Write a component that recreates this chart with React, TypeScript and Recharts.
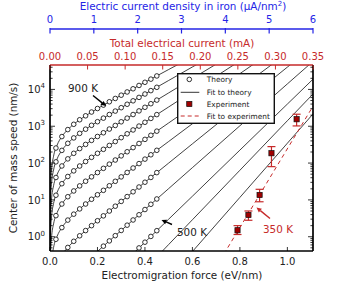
import React from "react";
import {
  ComposedChart,
  Line,
  Scatter,
  XAxis,
  YAxis,
  ErrorBar,
  Legend
} from "recharts";

const FONT = "'DejaVu Sans', sans-serif";
const RED = "#c62a2a";
const DARK_RED = "#a00000";
const BLUE = "#2424e6";
const INK = "#222";

// plot frame in pixels
const LEFT = 50;
const RIGHT = 313;
const TOP = 65;
const BOTTOM = 251;
const BLUE_LINE = 29;

const FORCE_MAX = 1.108;
const SPEED_MIN = 0.41;
const SPEED_MAX = 46000;

// electromigration force of the fitted curves (eV/nm)
const fitForce = [
  0.00002, 0.0001, 0.0005, 0.002, 0.006, 0.015, 0.03, 0.05, 0.08, 0.12, 0.17,
  0.23, 0.3, 0.4, 0.5, 0.6, 0.8, 1.0, 1.12
];
// speed on the fitted curves (nm/s), null where the curve is off the chart
const fit900 = [0.204, 1.02, 5.09, 20.4, 61.1, 153, 308, 524, 869, 1420, 2310, 3900, 6970, 15600, 34700, 77100, null, null, null];
const fit850 = [0.0859, 0.43, 2.15, 8.59, 25.8, 64.6, 130, 221, 370, 608, 1010, 1740, 3190, 7500, 17500, 40700, 221000, null, null];
const fit800 = [0.0322, 0.161, 0.805, 3.22, 9.66, 24.2, 48.9, 83.4, 140, 233, 394, 697, 1320, 3270, 8040, 19800, 119000, null, null];
const fit750 = [null, 0.053, 0.265, 1.06, 3.18, 7.98, 16.1, 27.5, 46.6, 78.5, 136, 248, 490, 1280, 3340, 8730, 59400, null, null];
const fit700 = [null, null, 0.074, 0.296, 0.887, 2.23, 4.51, 7.73, 13.2, 22.6, 40.0, 75.9, 157, 440, 1230, 3440, 26800, 209000, null];
const fit650 = [null, null, null, 0.0675, 0.202, 0.508, 1.03, 1.77, 3.06, 5.35, 9.77, 19.3, 42.2, 128, 386, 1170, 10700, 97700, null];
const fit600 = [null, null, null, null, null, null, 0.183, 0.318, 0.555, 0.993, 1.88, 3.92, 9.1, 30.2, 100, 333, 3660, 40300, 170000];
const fit550 = [null, null, null, null, null, null, null, null, null, null, 0.268, 0.594, 1.48, 5.5, 20.3, 75.2, 1030, 14100, 67600];
const fit500 = [null, null, null, null, null, null, null, null, null, null, null, 0.0615, 0.169, 0.711, 3.0, 12.6, 225, 4000, 22500];
const fit450 = [null, null, null, null, null, null, null, null, null, null, null, null, null, 0.131, 0.615, 2.89, 63.8, 1410, 9020];
const fit400 = [null, null, null, null, null, null, null, null, null, null, null, null, null, null, 0.073, 0.396, 11.7, 346, 2640];

// theory points
const theoryForce = [
  0.025, 0.05, 0.075, 0.1, 0.125, 0.15, 0.175, 0.2, 0.225, 0.25, 0.275, 0.3,
  0.325, 0.35, 0.375, 0.4, 0.425, 0.45
];
const theory900 = [256, 524, 811, 1130, 1500, 1920, 2430, 3030, 3750, 4620, 5680, 6970, 8530, 10400, 12800, 15600, 19000, 23200];
const theory850 = [108, 221, 344, 482, 641, 832, 1060, 1330, 1660, 2080, 2580, 3190, 3950, 4900, 6070, 7500, 9270, 11400];
const theory800 = [40.6, 83.4, 130, 184, 247, 321, 413, 527, 665, 839, 1050, 1320, 1660, 2080, 2610, 3270, 4090, 5130];
const theory750 = [13.4, 27.5, 43.2, 61.4, 83.2, 110, 143, 184, 236, 301, 384, 490, 624, 793, 1010, 1280, 1630, 2070];
const theory700 = [3.74, 7.73, 12.2, 17.5, 24.0, 32.1, 42.3, 55.3, 71.9, 93.5, 121, 157, 203, 263, 340, 440, 568, 735];
const theory650 = [0.853, 1.77, 2.83, 4.1, 5.7, 7.73, 10.4, 13.8, 18.2, 24.2, 32.0, 42.2, 55.6, 73.5, 96.8, 128, 168, 222];
const theory600 = [null, null, 0.512, 0.752, 1.06, 1.47, 2.0, 2.72, 3.69, 4.99, 6.75, 9.1, 12.3, 16.6, 22.4, 30.2, 40.7, 55.1];
const theory550 = [null, null, null, null, null, null, null, null, 0.555, 0.771, 1.07, 1.48, 2.06, 2.85, 3.95, 5.48, 7.6, 10.6];
const theory500 = [null, null, null, null, null, null, null, null, null, null, null, null, null, null, 0.497, 0.711, 1.02, 1.46];

// experiment at 350 K
const expForce = [0.79, 0.836, 0.883, 0.933, 1.039];
const expSpeed = [1.5, 3.9, 13.6, 185, 1550];
const expErrLow = [0.35, 1.1, 4.7, 105, 530];
const expErrHigh = [0.5, 1.1, 5.8, 95, 570];
const expFitForce = [0.7, 1.12];
const expFitSpeed = [0.152, 4700];

// top axes ranges (total current in mA, current density in uA/nm^2)
const currentRange = [0, 0.35];
const densityRange = [0, 6];

const forceTicks = [0, 0.2, 0.4, 0.6, 0.8, 1.0];
const currentTicks = [0, 0.05, 0.1, 0.15, 0.2, 0.25, 0.3, 0.35];
const densityTicks = [0, 1, 2, 3, 4, 5, 6];
const speedTicks = [
  0.5, 0.6, 0.7, 0.8, 0.9, 1, 2, 3, 4, 5, 6, 7, 8, 9, 10, 20, 30, 40, 50, 60,
  70, 80, 90, 100, 200, 300, 400, 500, 600, 700, 800, 900, 1000, 2000, 3000,
  4000, 5000, 6000, 7000, 8000, 9000, 10000, 20000, 30000, 40000
];

const toRows = (xs: number[], ys: (number | null)[]) =>
  xs.map((F, i) => ({ F, v: ys[i] })).filter((d) => d.v != null);

const fits = [fit900, fit850, fit800, fit750, fit700, fit650, fit600, fit550, fit500, fit450, fit400];
const theories = [theory900, theory850, theory800, theory750, theory700, theory650, theory600, theory550, theory500];

const expRows = expForce.map((F, i) => ({
  F,
  v: expSpeed[i],
  err: [expErrLow[i], expErrHigh[i]]
}));

const isDecade = (v: number) => {
  const e = Math.log10(v);
  return Math.abs(e - Math.round(e)) < 1e-9;
};

const SpeedTickLeft = (props: any) => {
  const { y, payload } = props;
  const major = isDecade(payload.value);
  return (
    <g>
      <line x1={LEFT} x2={LEFT + (major ? 5 : 2.6)} y1={y} y2={y} stroke="#000" strokeWidth={0.8} />
      {major ? (
        <text x={LEFT - 5} y={y + 3.6} textAnchor="end" fontFamily={FONT} fontSize={10} fill={INK}>
          10
          <tspan dy={-4.6} fontSize={7}>
            {Math.round(Math.log10(payload.value))}
          </tspan>
        </text>
      ) : null}
    </g>
  );
};

const SpeedTickRight = (props: any) => {
  const { y, payload } = props;
  const major = isDecade(payload.value);
  return <line x1={RIGHT} x2={RIGHT - (major ? 5 : 2.6)} y1={y} y2={y} stroke="#000" strokeWidth={0.8} />;
};

const ForceTick = (props: any) => {
  const { x, payload } = props;
  return (
    <g>
      <line x1={x} x2={x} y1={BOTTOM} y2={BOTTOM - 4} stroke="#000" strokeWidth={0.8} />
      <text x={x} y={BOTTOM + 13.5} textAnchor="middle" fontFamily={FONT} fontSize={10} fill={INK}>
        {payload.value.toFixed(1)}
      </text>
    </g>
  );
};

const CurrentTick = (props: any) => {
  const { x, payload } = props;
  return (
    <g>
      <line x1={x} x2={x} y1={TOP} y2={TOP + 4.5} stroke={RED} strokeWidth={1} />
      <text x={x} y={59.5} textAnchor="middle" fontFamily={FONT} fontSize={10} fill={RED}>
        {payload.value.toFixed(2)}
      </text>
    </g>
  );
};

const DensityTick = (props: any) => {
  const { x, payload } = props;
  return (
    <g>
      <line x1={x} x2={x} y1={BLUE_LINE - 1} y2={BLUE_LINE + 4.5} stroke={BLUE} strokeWidth={1.2} />
      <text x={x} y={23} textAnchor="middle" fontFamily={FONT} fontSize={10} fill={BLUE}>
        {payload.value}
      </text>
    </g>
  );
};

const openCircle = (p: any) => (
  <circle cx={p.cx} cy={p.cy} r={2.3} fill="#fff" stroke="#000" strokeWidth={0.8} />
);

const redSquare = (p: any) => (
  <rect x={p.cx - 2.6} y={p.cy - 2.6} width={5.2} height={5.2} fill={DARK_RED} stroke="#111" strokeWidth={0.7} />
);

const LegendBox = () => {
  const txt = { fontFamily: FONT, fontSize: 7.4, fill: INK } as const;
  return (
    <svg width={98} height={51} style={{ display: "block" }}>
      <rect x={0.7} y={0.7} width={96.6} height={49.6} fill="#fff" stroke="#111" strokeWidth={1.4} />
      <circle cx={12.3} cy={6.4} r={2.3} fill="#fff" stroke="#000" strokeWidth={0.8} />
      <text x={29.7} y={9} {...txt}>Theory</text>
      <line x1={3.7} x2={22.3} y1={19.3} y2={19.3} stroke="#000" strokeWidth={0.8} />
      <text x={29.7} y={21.9} {...txt}>Fit to theory</text>
      <rect x={9.7} y={28.4} width={5.2} height={5.2} fill={DARK_RED} stroke="#111" strokeWidth={0.7} />
      <text x={29.7} y={33.6} {...txt}>Experiment</text>
      <line x1={3.7} x2={22.3} y1={43} y2={43} stroke={RED} strokeWidth={1} strokeDasharray="4 3" />
      <text x={29.7} y={45.6} {...txt}>Fit to experiment</text>
    </svg>
  );
};

const Arrow = ({ from, to, color }: { from: number[]; to: number[]; color: string }) => {
  const [x1, y1] = from;
  const [x2, y2] = to;
  const a = Math.atan2(y2 - y1, x2 - x1);
  const len = 5;
  const half = 2.4;
  const bx = x2 - len * Math.cos(a);
  const by = y2 - len * Math.sin(a);
  const p1 = `${bx + half * Math.sin(a)},${by - half * Math.cos(a)}`;
  const p2 = `${bx - half * Math.sin(a)},${by + half * Math.cos(a)}`;
  return (
    <g>
      <line x1={x1} y1={y1} x2={bx} y2={by} stroke={color} strokeWidth={1.4} />
      <polygon points={`${x2},${y2} ${p1} ${p2}`} fill={color} />
    </g>
  );
};

export default function App() {
  const title = { fontFamily: FONT, fontSize: 10.4 } as const;
  return (
    <div style={{ position: "absolute", left: 0, top: 0, width: 341, height: 289, background: "#fff" }}>
      <ComposedChart width={341} height={289} margin={{ top: 0, right: 0, bottom: 0, left: 0 }}>
        <XAxis
          dataKey="F"
          type="number"
          domain={[0, FORCE_MAX]}
          allowDataOverflow
          ticks={forceTicks}
          interval={0}
          height={38}
          tick={ForceTick}
          tickLine={false}
          axisLine={{ stroke: "#000", strokeWidth: 1.7 }}
        />
        <XAxis
          xAxisId="current"
          dataKey="F"
          type="number"
          orientation="top"
          domain={currentRange}
          allowDataOverflow
          ticks={currentTicks}
          interval={0}
          height={36}
          tick={CurrentTick}
          tickLine={false}
          axisLine={{ stroke: RED, strokeWidth: 1.6 }}
        />
        <XAxis
          xAxisId="density"
          dataKey="F"
          type="number"
          orientation="top"
          domain={densityRange}
          allowDataOverflow
          ticks={densityTicks}
          interval={0}
          height={29}
          tick={DensityTick}
          tickLine={false}
          axisLine={{ stroke: BLUE, strokeWidth: 1.5 }}
        />
        <YAxis
          dataKey="v"
          type="number"
          scale="log"
          domain={[SPEED_MIN, SPEED_MAX]}
          allowDataOverflow
          ticks={speedTicks}
          interval={0}
          width={50}
          tick={SpeedTickLeft}
          tickLine={false}
          axisLine={{ stroke: "#000", strokeWidth: 1.7 }}
        />
        <YAxis
          yAxisId="right"
          dataKey="v"
          orientation="right"
          type="number"
          scale="log"
          domain={[SPEED_MIN, SPEED_MAX]}
          allowDataOverflow
          ticks={speedTicks}
          interval={0}
          width={28}
          tick={SpeedTickRight}
          tickLine={false}
          axisLine={{ stroke: "#000", strokeWidth: 1.7 }}
        />

        {/* invisible carriers so the secondary axes get their scales */}
        <Line
          xAxisId="current"
          yAxisId="right"
          data={currentRange.map((F) => ({ F, v: 1 }))}
          dataKey="v"
          stroke="none"
          dot={false}
          activeDot={false}
          legendType="none"
          isAnimationActive={false}
        />
        <Line
          xAxisId="density"
          yAxisId="right"
          data={densityRange.map((F) => ({ F, v: 1 }))}
          dataKey="v"
          stroke="none"
          dot={false}
          activeDot={false}
          legendType="none"
          isAnimationActive={false}
        />

        {fits.map((f, i) => (
          <Line
            key={`fit${i}`}
            name={`fit${i}`}
            data={toRows(fitForce, f)}
            dataKey="v"
            type="monotone"
            stroke="#111"
            strokeWidth={0.8}
            dot={false}
            activeDot={false}
            isAnimationActive={false}
          />
        ))}
        {theories.map((t, i) => (
          <Scatter
            key={`theory${i}`}
            name={`theory${i}`}
            data={toRows(theoryForce, t)}
            dataKey="v"
            shape={openCircle}
            isAnimationActive={false}
          />
        ))}
        <Line
          name="expFit"
          data={toRows(expFitForce, expFitSpeed)}
          dataKey="v"
          type="linear"
          stroke={RED}
          strokeWidth={1}
          strokeDasharray="4 3.5"
          dot={false}
          activeDot={false}
          isAnimationActive={false}
        />
        <Scatter name="experiment" data={expRows} dataKey="v" shape={redSquare} isAnimationActive={false}>
          <ErrorBar dataKey="err" direction="y" width={4} stroke={RED} strokeWidth={1.2} />
        </Scatter>
        <Legend
          layout="vertical"
          align="center"
          verticalAlign="middle"
          width={98}
          height={51}
          content={() => <LegendBox />}
          wrapperStyle={{ position: "absolute", left: 177, top: 73, width: 98, height: 51 }}
        />
      </ComposedChart>

      <svg width={341} height={289} style={{ position: "absolute", left: 0, top: 0, pointerEvents: "none" }}>
        <text x={183} y={10} textAnchor="middle" fill={BLUE} {...title}>
          Electric current density in iron (μA/nm
          <tspan dy={-4} fontSize={7}>2</tspan>
          <tspan dy={4}>)</tspan>
        </text>
        <text x={182} y={46.5} textAnchor="middle" fill={RED} {...title}>
          Total electrical current (mA)
        </text>
        <text x={182} y={279} textAnchor="middle" fill={INK} {...title}>
          Electromigration force (eV/nm)
        </text>
        <text x={17} y={158} textAnchor="middle" fill={INK} transform="rotate(-90 17 158)" {...title}>
          Center of mass speed (nm/s)
        </text>

        <text x={68} y={92} fill={INK} {...title}>900 K</text>
        <Arrow from={[93, 95.5]} to={[106, 106]} color="#000" />
        <text x={177} y={236} fill={INK} {...title}>500 K</text>
        <Arrow from={[172, 224.5]} to={[161.5, 220]} color="#000" />
        <text x={263} y={233} fill={RED} {...title}>350 K</text>
        <Arrow from={[270, 218.5]} to={[256.5, 207.5]} color={RED} />
      </svg>
    </div>
  );
}
